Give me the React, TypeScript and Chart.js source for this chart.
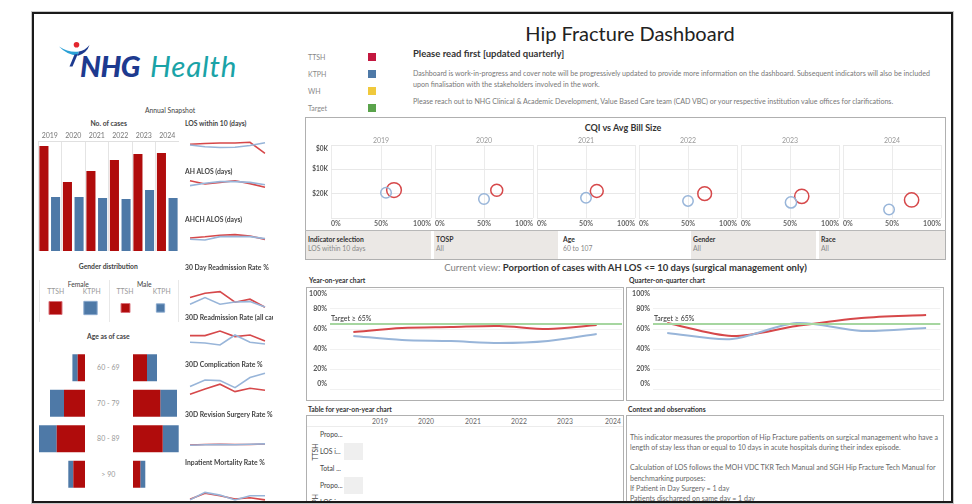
import React, { useEffect, useRef } from 'react';
import { Chart, registerables } from 'chart.js';

Chart.register(...registerables);

const FONT = 'Lato, "Open Sans", Roboto, sans-serif';
Chart.defaults.font.family = FONT;

// ---------------- data ----------------
const years = ['2019', '2020', '2021', '2022', '2023', '2024'];
const casesTTSH = [420, 276, 320, 364, 388, 392];
const casesKTPH = [216, 216, 212, 208, 244, 212];

const losTTSH = [57.1, 58.1, 58.8, 58.8, 59.6, 45.9];
const losKTPH = [56.3, 54.0, 53.1, 53.4, 55.6, 59.1];
const ahAlosTTSH = [10.8, 10.0, 10.4, 10.8, 10.1, 9.2];
const ahAlosKTPH = [9.6, 10.2, 10.6, 10.6, 10.4, 9.8];
const ahchAlosTTSH = [23.0, 23.6, 24.4, 24.7, 24.0, 22.3];
const ahchAlosKTPH = [22.4, 22.0, 23.7, 23.7, 23.7, 22.7];
const readm30TTSH = [8.2, 10.4, 11.2, 5.9, 7.4, 3.4];
const readm30KTPH = [4.9, 8.2, 4.9, 6.0, 6.2, 3.5];
const readmAllTTSH = [13.2, 13.2, 15.5, 12.7, 13.5, 10.5];
const readmAllKTPH = [9.9, 9.5, 8.5, 13.5, 9.9, 9.0];
const complTTSH = [1.9, 4.5, 6.9, 3.2, 4.9, 3.9];
const complKTPH = [5.7, 9.0, 8.7, 5.2, 10.2, 12.4];
const revisTTSH = [1.75, 1.88, 1.95, 1.88, 1.88, 2.0];
const revisKTPH = [1.7, 1.8, 1.88, 1.8, 1.93, 2.03];
const mortTTSH = [0.9, 2.9, 2.1, 1.0, 1.4, 0.7];
const mortKTPH = [0.7, 3.2, 2.3, 0.7, 2.1, 2.1];

const genderGroups = ['Female', 'Male'];
const genderTTSH = [1700, 810];
const genderKTPH = [1780, 690];

const ageBands = ['60 - 69', '70 - 79', '80 - 89', '> 90'];
const ageFemaleTTSH = [73, 210, 283, 117];
const ageFemaleKTPH = [53, 140, 177, 50];
const ageMaleTTSH = [140, 273, 297, 73];
const ageMaleKTPH = [100, 167, 160, 50];

const cqiTTSHpct = [63, 63, 61, 67, 62, 70];
const cqiKTPHpct = [55, 50, 50, 50, 51, 47];
const cqiTTSHbill = [18.5, 18.6, 18.9, 20.0, 21.1, 22.6];
const cqiKTPHbill = [19.6, 22.2, 21.7, 23.0, 23.6, 26.5];
const billTicks = [0, 10, 20];
const billTickLabels = ['$0K', '$10K', '$20K'];

const yoyTTSH = [57, 61, 62, 63, 60, 64];
const yoyKTPH = [53, 49, 48, 46, 48, 55];
const quarters = ['2024 Q1', '2024 Q2', '2024 Q3', '2024 Q4', '2025 Q1'];
const qoqTTSH = [66, 53, 63, 71, 74];
const qoqKTPH = [56, 50, 66, 58, 61];
const pctTicks = [0, 20, 40, 60, 80, 100];
const pctTickLabels = ['0%', '20%', '40%', '60%', '80%', '100%'];
const TARGET = 65;

// ---------------- colours ----------------
const BAR_RED = '#b00c0c';
const BAR_BLUE = '#4e79a7';
const LINE_RED = '#d6484a';
const LINE_BLUE = '#98b5d9';
const TARGET_GREEN = '#a6d6a0';

// ---------------- plugins ----------------
const innerY = {
  id: 'innerY',
  afterDraw(chart: any, _a: any, o: any) {
    if (!o || !o.values) return;
    const s = chart.scales.y;
    const a = chart.chartArea;
    const ctx = chart.ctx;
    ctx.save();
    ctx.font = o.font;
    ctx.fillStyle = o.color;
    ctx.textAlign = 'right';
    ctx.textBaseline = 'middle';
    o.values.forEach((v: number, i: number) => {
      let py = s.getPixelForValue(v);
      py = Math.min(Math.max(py, a.top + o.inset), a.bottom - o.inset);
      ctx.fillText(o.labels[i], a.left - o.pad, py);
    });
    ctx.restore();
  },
};
const panelTitle = {
  id: 'panelTitle',
  afterDraw(chart: any, _a: any, o: any) {
    if (!o || !o.text) return;
    const a = chart.chartArea;
    const ctx = chart.ctx;
    ctx.save();
    ctx.font = `7px ${FONT}`;
    ctx.fillStyle = '#9a9a9a';
    ctx.textAlign = 'center';
    ctx.textBaseline = 'middle';
    ctx.fillText(o.text, (a.left + a.right) / 2, a.top - 4);
    ctx.restore();
  },
};
const targetLine = {
  id: 'targetLine',
  afterDatasetsDraw(chart: any, _a: any, o: any) {
    if (!o || o.value == null) return;
    const a = chart.chartArea;
    const py = chart.scales.y.getPixelForValue(o.value);
    const ctx = chart.ctx;
    ctx.save();
    ctx.strokeStyle = TARGET_GREEN;
    ctx.lineWidth = 2;
    ctx.beginPath();
    ctx.moveTo(a.left, py);
    ctx.lineTo(a.right, py);
    ctx.stroke();
    ctx.font = `7px ${FONT}`;
    ctx.fillStyle = '#333';
    ctx.textAlign = 'left';
    ctx.textBaseline = 'alphabetic';
    ctx.fillText(o.label, a.left + 1, py - 3);
    ctx.restore();
  },
};
Chart.register(innerY as any, panelTitle as any, targetLine as any);

// ---------------- helpers ----------------
function Cv({ x, y, w, h, make }: { x: number; y: number; w: number; h: number; make: () => any }) {
  const ref = useRef<HTMLCanvasElement>(null);
  useEffect(() => {
    const c = new Chart(ref.current as HTMLCanvasElement, make());
    return () => c.destroy();
  }, []);
  return <canvas ref={ref} width={w} height={h} style={{ position: 'absolute', left: x, top: y, width: w, height: h }} />;
}

function T({ x, y, s, c = '#333', w = 400, a = 'left', children, it = false }: any) {
  const lh = Math.round(s * 1.3);
  const tr = a === 'center' ? 'translateX(-50%)' : a === 'right' ? 'translateX(-100%)' : undefined;
  return (
    <div style={{ position: 'absolute', left: x, top: y - lh / 2, lineHeight: lh + 'px', fontSize: s, color: c, fontWeight: w, whiteSpace: 'nowrap', transform: tr, fontFamily: FONT, fontStyle: it ? 'italic' : 'normal' }}>
      {children}
    </div>
  );
}

function Box({ x, y, w, h, bg, b }: any) {
  return <div style={{ position: 'absolute', left: x, top: y, width: w, height: h, background: bg, border: b, boxSizing: 'border-box' }} />;
}

const base = { responsive: false, animation: false, events: [] as any[] };
const noLegend = { legend: { display: false }, tooltip: { enabled: false } };

// ---------------- chart configs ----------------
const casesCfg = () => ({
  type: 'bar',
  data: {
    labels: years,
    datasets: [
      { data: casesTTSH, backgroundColor: BAR_RED, barPercentage: 0.78, categoryPercentage: 0.99 },
      { data: casesKTPH, backgroundColor: BAR_BLUE, barPercentage: 0.78, categoryPercentage: 0.99 },
    ],
  },
  options: {
    ...base,
    plugins: { ...noLegend },
    layout: { padding: 0, autoPadding: false },
    scales: {
      x: {
        position: 'top',
        grid: { color: '#e4e4e4', drawTicks: false, offset: true },
        border: { color: '#e0e0e0' },
        ticks: { font: { size: 7 }, color: '#777', padding: 1, maxRotation: 0 },
        afterFit: (s: any) => { s.height = 11; },
      },
      y: { display: false, min: 0, max: 440 },
    },
  },
});

function sparkCfg(t: number[], k: number[], min: number, max: number) {
  return () => ({
    type: 'line',
    data: {
      labels: years,
      datasets: [
        { data: k, borderColor: LINE_BLUE, borderWidth: 1.6, pointRadius: 0, tension: 0 },
        { data: t, borderColor: LINE_RED, borderWidth: 1.6, pointRadius: 0, tension: 0 },
      ],
    },
    options: {
      ...base,
      plugins: { ...noLegend },
      layout: { padding: { left: 3, right: 3, top: 2, bottom: 2 } },
      scales: { x: { display: false }, y: { display: false, min, max } },
    },
  });
}

const sparkData = [
  { title: 'LOS within 10 (days)', t: losTTSH, k: losKTPH, min: 40, max: 70 },
  { title: 'AH ALOS (days)', t: ahAlosTTSH, k: ahAlosKTPH, min: 8, max: 12 },
  { title: 'AHCH ALOS (days)', t: ahchAlosTTSH, k: ahchAlosKTPH, min: 20, max: 28 },
  { title: '30 Day Readmission Rate %', t: readm30TTSH, k: readm30KTPH, min: 2, max: 14 },
  { title: '30D Readmission Rate (all cause) %', t: readmAllTTSH, k: readmAllKTPH, min: 6, max: 18 },
  { title: '30D Complication Rate %', t: complTTSH, k: complKTPH, min: 0, max: 14 },
  { title: '30D Revision Surgery Rate %', t: revisTTSH, k: revisKTPH, min: 0, max: 4 },
  { title: 'Inpatient Mortality Rate %', t: mortTTSH, k: mortKTPH, min: 0, max: 6 },
];
const sparkLayout = [
  { ty: 123.7, top: 134, h: 24 },
  { ty: 171.7, top: 176, h: 16 },
  { ty: 219.5, top: 228, h: 16 },
  { ty: 267.7, top: 286, h: 24 },
  { ty: 317, top: 326, h: 24 },
  { ty: 364.3, top: 370, h: 28 },
  { ty: 414.3, top: 436, h: 16 },
  { ty: 462, top: 484, h: 18 },
];

// square marker half-size from the count (Tableau size encoding)
const squareR = (n: number) => (0.315 * Math.sqrt(n)) / (2 * Math.SQRT1_2);
const genderCfg = () => ({
  type: 'scatter',
  data: {
    datasets: [
      {
        data: genderTTSH.map((_n, i) => ({ x: i * 2, y: 0.5 })),
        pointRadius: genderTTSH.map(squareR),
        pointBackgroundColor: BAR_RED, pointBorderColor: '#d9707a', pointBorderWidth: 1, pointStyle: 'rect',
        showLine: false, clip: false,
      },
      {
        data: genderKTPH.map((_n, i) => ({ x: i * 2 + 1, y: 0.5 })),
        pointRadius: genderKTPH.map(squareR),
        pointBackgroundColor: BAR_BLUE, pointBorderColor: '#86a6cc', pointBorderWidth: 1, pointStyle: 'rect',
        showLine: false, clip: false,
      },
    ],
  },
  options: {
    ...base,
    plugins: { ...noLegend },
    layout: { padding: 0, autoPadding: false },
    scales: {
      x: { type: 'linear', display: false, min: -0.5, max: 3.5 },
      y: { type: 'linear', display: false, min: 0, max: 1 },
    },
  },
});

function ageCfg(t: number[], k: number[], max: number, reverse: boolean) {
  return () => ({
    type: 'bar',
    data: {
      labels: ageBands,
      datasets: [
        { data: t, backgroundColor: BAR_RED, barPercentage: 0.76, categoryPercentage: 1 },
        { data: k, backgroundColor: BAR_BLUE, barPercentage: 0.76, categoryPercentage: 1 },
      ],
    },
    options: {
      ...base,
      indexAxis: 'y',
      plugins: { ...noLegend },
      layout: { padding: 0, autoPadding: false },
      scales: {
        x: { display: false, stacked: true, min: 0, max, reverse },
        y: { display: false, stacked: true },
      },
    },
  });
}

const bubbleR = (n: number) => 0.36 * Math.sqrt(n);
function cqiCfg(i: number) {
  return () => ({
    type: 'bubble',
    data: {
      datasets: [
        { data: [{ x: cqiKTPHpct[i], y: cqiKTPHbill[i], r: bubbleR(casesKTPH[i]) }], backgroundColor: 'rgba(255,255,255,0)', borderColor: LINE_BLUE, borderWidth: 1.5 },
        { data: [{ x: cqiTTSHpct[i], y: cqiTTSHbill[i], r: bubbleR(casesTTSH[i]) }], backgroundColor: 'rgba(255,255,255,0)', borderColor: LINE_RED, borderWidth: 1.5 },
      ],
    },
    options: {
      ...base,
      layout: { padding: { top: 10, left: 0, right: 0, bottom: 0 }, autoPadding: false },
      plugins: {
        ...noLegend,
        panelTitle: { text: years[i] },
        innerY: i === 0 ? { values: billTicks, labels: billTickLabels, font: `bold 6.5px ${FONT}`, color: '#555', inset: 4, pad: 3 } : false,
      },
      scales: {
        x: {
          type: 'linear', min: 0, max: 100,
          afterBuildTicks: (s: any) => { s.ticks = [0, 50, 100].map((v) => ({ value: v })); },
          ticks: { align: 'inner', callback: (v: any) => v + '%', font: { size: 7, weight: 'bold' }, color: '#666', padding: 2, maxRotation: 0, autoSkip: false },
          grid: { color: '#ebebeb', drawTicks: false },
          border: { display: false },
          afterFit: (s: any) => { s.height = 12; },
        },
        y: {
          type: 'linear', reverse: true, min: 0, max: 30,
          afterBuildTicks: (s: any) => { s.ticks = [0, 10, 20, 30].map((v) => ({ value: v })); },
          ticks: { display: false },
          grid: { color: '#e8e8e8', drawTicks: false },
          border: { display: false },
          afterFit: (s: any) => { s.width = i === 0 ? 25 : 0; },
        },
      },
    },
  });
}

function trendCfg(labels: string[], t: number[], k: number[], min: number, max: number, yw: number) {
  return () => ({
    type: 'line',
    data: {
      datasets: [
        { data: k.map((v, i) => ({ x: i, y: v })), borderColor: LINE_BLUE, borderWidth: 2, pointRadius: 0, tension: 0.3 },
        { data: t.map((v, i) => ({ x: i, y: v })), borderColor: LINE_RED, borderWidth: 2, pointRadius: 0, tension: 0.3 },
      ],
    },
    options: {
      ...base,
      layout: { padding: { top: 1, right: 1, left: 0, bottom: 0 }, autoPadding: false },
      plugins: {
        ...noLegend,
        innerY: { values: pctTicks, labels: pctTickLabels, font: `bold 7px ${FONT}`, color: '#555', inset: 5, pad: 3 },
        targetLine: { value: TARGET, label: 'Target \u2265 65%' },
      },
      scales: {
        x: {
          type: 'linear', min, max,
          afterBuildTicks: (s: any) => { s.ticks = labels.map((_, i) => ({ value: i })); },
          ticks: { callback: (_v: any, i: number) => labels[i], font: { size: 7 }, color: '#9a9a9a', padding: 3, maxRotation: 0, autoSkip: false },
          grid: { display: false },
          border: { display: false },
          afterFit: (s: any) => { s.height = 11; },
        },
        y: {
          min: 0, max: 100,
          afterBuildTicks: (s: any) => { s.ticks = pctTicks.map((v) => ({ value: v })); },
          ticks: { display: false },
          grid: { color: '#f1f1f1', drawTicks: false },
          border: { display: false },
          afterFit: (s: any) => { s.width = yw; },
        },
      },
    },
  });
}

// ---------------- text ----------------
const paraLines = [
  'Dashboard is work-in-progress and cover note will be progressively updated to provide more information on the dashboard. Subsequent indicators will also be included',
  'upon finalisation with the stakeholders involved in the work.',
];
const paraLine3 = 'Please reach out to NHG Clinical & Academic Development, Value Based Care team (CAD VBC) or your respective institution value offices for clarifications.';
const contextLines = [
  'This indicator measures the proportion of Hip Fracture patients on surgical management who have a',
  'length of stay less than or equal to 10 days in acute hospitals during their index episode.',
  '',
  'Calculation of LOS follows the MOH VDC TKR Tech Manual and SGH Hip Fracture Tech Manual for',
  'benchmarking purposes:',
  'If Patient in Day Surgery = 1 day',
  'Patients discharged on same day = 1 day',
];
const filters = [
  { label: 'Indicator selection', value: 'LOS within 10 days', x: 306, w: 125, bg: '#ebe8e5' },
  { label: 'TOSP', value: 'All', x: 434, w: 124, bg: '#ebe8e5' },
  { label: 'Age', value: '60 to 107', x: 561, w: 127, bg: '#ffffff' },
  { label: 'Gender', value: 'All', x: 691, w: 125, bg: '#ebe8e5' },
  { label: 'Race', value: 'All', x: 819, w: 126, bg: '#ebe8e5' },
];
const legendItems = [
  { name: 'TTSH', color: '#c3173f', y: 57 },
  { name: 'KTPH', color: '#4e79a7', y: 74 },
  { name: 'WH', color: '#f0c93c', y: 91 },
  { name: 'Target', color: '#5aa34b', y: 108 },
];
const tableYearX = [380, 426, 473, 519, 565, 613];
const tableRows = ['Propo...', 'LOS i...', 'Total ...', 'Propo...', 'LOS i...'];

export default function App() {
  return (
    <div style={{ position: 'fixed', left: 0, top: 0, width: 972, height: 504, overflow: 'hidden', background: '#fff', fontFamily: FONT }}>
      {/* logo */}
      <svg style={{ position: 'absolute', left: 0, top: 0 }} width={120} height={90}>
        <circle cx={76.5} cy={44.7} r={2.8} fill="#e3262e" />
        <path d="M59,46.5 Q69,53 79,51.5 L77.5,55.5 Q67,55 59,46.5 Z" fill="#2aa0d6" />
        <path d="M79,51.5 Q85,50.5 89.5,45 Q87,53 77.5,56 Z" fill="#1d3a8f" />
        <path d="M77.8,54 L72.5,66.5 L69.5,66.5 L74.5,54.5 Z" fill="#1d3a8f" />
      </svg>
      <div style={{ position: 'absolute', left: 80, top: 52, fontSize: 29, lineHeight: '28px', fontWeight: 900, fontStyle: 'italic', color: '#1d3a8f', letterSpacing: -0.5, whiteSpace: 'nowrap' }}>NHG</div>
      <div style={{ position: 'absolute', left: 150, top: 52, fontSize: 29.5, lineHeight: '28px', fontWeight: 400, fontStyle: 'italic', color: '#1aa3a7', letterSpacing: 0.8, whiteSpace: 'nowrap' }}>Health</div>

      {/* left column */}
      <T x={170} y={110} s={6.8} c="#444" a="center">Annual Snapshot</T>
      <T x={108.7} y={123.7} s={6.8} w={700} c="#444" a="center">No. of cases</T>
      <Cv x={38} y={130} w={141} h={121} make={casesCfg} />

      {sparkData.map((d, i) => (
        <React.Fragment key={d.title}>
          <div style={{ position: 'absolute', left: 185, top: 0, width: 88, height: 504, overflow: 'hidden' }}>
            <T x={0} y={sparkLayout[i].ty} s={6.8} w={700} c="#444">{d.title}</T>
          </div>
          <Cv x={187} y={sparkLayout[i].top - 2} w={81} h={sparkLayout[i].h + 4} make={sparkCfg(d.t, d.k, d.min, d.max)} />
        </React.Fragment>
      ))}

      <T x={108.3} y={266} s={6.8} w={700} c="#444" a="center">Gender distribution</T>
      {[39, 109, 178].map((x) => <Box key={x} x={x} y={280} w={1} h={42} bg="#e8e8e8" />)}
      <T x={78.3} y={284.3} s={6.8} c="#444" a="center">{genderGroups[0]}</T>
      <T x={144.3} y={284.3} s={6.8} c="#444" a="center">{genderGroups[1]}</T>
      <T x={55.7} y={291} s={6.8} c="#999" a="center">TTSH</T>
      <T x={91.7} y={291} s={6.8} c="#999" a="center">KTPH</T>
      <T x={125} y={291} s={6.8} c="#999" a="center">TTSH</T>
      <T x={161.7} y={291} s={6.8} c="#999" a="center">KTPH</T>
      <Cv x={38} y={298} w={140} h={20} make={genderCfg} />

      <T x={108.3} y={336} s={6.8} w={700} c="#444" a="center">Age as of case</T>
      <Cv x={38} y={350} w={47} h={142} make={ageCfg(ageFemaleTTSH, ageFemaleKTPH, 470, true)} />
      <Cv x={133} y={350} w={46} h={142} make={ageCfg(ageMaleTTSH, ageMaleKTPH, 460, false)} />
      {ageBands.map((b, i) => <T key={b} x={108.3} y={367.7 + i * 35.5} s={7} c="#999" a="center">{b}</T>)}

      {/* header */}
      <T x={630} y={33} s={20} c="#222" a="center">Hip Fracture Dashboard</T>
      {legendItems.map((l) => (
        <React.Fragment key={l.name}>
          <T x={308} y={l.y} s={7} c="#888">{l.name}</T>
          <Box x={368} y={l.y - 4} w={8} h={8} bg={l.color} />
        </React.Fragment>
      ))}
      <T x={413} y={54} s={9.5} w={700} c="#333">Please read first [updated quarterly]</T>
      <T x={413} y={73} s={7.1} c="#777">{paraLines[0]}</T>
      <T x={413} y={84} s={7.1} c="#777">{paraLines[1]}</T>
      <T x={413} y={101} s={7.1} c="#777">{paraLine3}</T>

      {/* CQI */}
      <Box x={305} y={117} w={641} h={143} b="1px solid #b0b0b0" />
      <T x={623} y={128.3} s={9} w={700} c="#333" a="center">CQI vs Avg Bill Size</T>
      <Cv x={306} y={135} w={127} h={95} make={cqiCfg(0)} />
      {[1, 2, 3, 4, 5].map((i) => <Cv key={i} x={331 + 102 * i} y={135} w={102} h={95} make={cqiCfg(i)} />)}
      <Box x={306} y={231} w={639} h={28} bg="#ffffff" />
      {filters.map((f) => (
        <React.Fragment key={f.label}>
          <Box x={f.x} y={231} w={f.w} h={28} bg={f.bg} />
          <T x={f.x + 2} y={239} s={6.8} w={700} c="#333">{f.label}</T>
          <T x={f.x + 2} y={248.3} s={6.8} c="#888">{f.value}</T>
        </React.Fragment>
      ))}
      <Box x={305} y={230} w={641} h={1} bg="#b8b8b8" />

      {/* current view */}
      <div style={{ position: 'absolute', left: 625.5, top: 261, transform: 'translateX(-50%)', whiteSpace: 'nowrap', fontSize: 9.5, lineHeight: '13px', fontFamily: FONT }}>
        <span style={{ color: '#808080' }}>Current view: </span>
        <span style={{ color: '#333', fontWeight: 700 }}>Porportion of cases with AH LOS &lt;= 10 days (surgical management only)</span>
      </div>

      {/* trend charts */}
      <T x={309} y={280} s={6.8} w={700} c="#333">Year-on-year chart</T>
      <T x={629} y={280} s={6.8} w={700} c="#333">Quarter-on-quarter chart</T>
      <Box x={306} y={287} w={318} h={114} b="1px solid #b0b0b0" />
      <Box x={626} y={287} w={318} h={114} b="1px solid #b0b0b0" />
      <Cv x={307} y={288} w={316} h={112} make={trendCfg(years, yoyTTSH, yoyKTPH, -0.48, 5.52, 23)} />
      <Cv x={627} y={288} w={316} h={112} make={trendCfg(quarters, qoqTTSH, qoqKTPH, -0.22, 4.22, 26)} />

      {/* table */}
      <T x={308} y={409} s={6.8} w={700} c="#333">Table for year-on-year chart</T>
      <T x={628} y={409} s={6.8} w={700} c="#333">Context and observations</T>
      <Box x={306} y={415} w={318} h={100} b="1px solid #b0b0b0" />
      <Box x={626} y={415} w={318} h={100} b="1px solid #b0b0b0" />
      <Box x={307} y={426} w={316} h={1} bg="#ececec" />
      {years.map((yv, i) => <T key={yv} x={tableYearX[i]} y={421} s={6.8} c="#666" a="center">{yv}</T>)}
      <Box x={344} y={443} w={19} h={17} bg="#efefef" />
      <Box x={344} y={477} w={19} h={17} bg="#efefef" />
      {tableRows.map((r, i) => <T key={i} x={320} y={434.5 + i * 17} s={6.8} c="#444">{r}</T>)}
      <div style={{ position: 'absolute', left: 314.7, top: 451.5, transform: 'translate(-50%,-50%) rotate(-90deg)', fontSize: 6.8, color: '#444', whiteSpace: 'nowrap', fontFamily: FONT }}>TTSH</div>
      <div style={{ position: 'absolute', left: 314.7, top: 503, transform: 'translate(-50%,-50%) rotate(-90deg)', fontSize: 6.8, color: '#444', whiteSpace: 'nowrap', fontFamily: FONT }}>KTPH</div>
      {contextLines.map((l, i) => <T key={i} x={630} y={437 + i * 10.3} s={7.05} c="#666">{l}</T>)}

      {/* frame */}
      <div style={{ position: 'absolute', left: 32, top: 12, width: 921, height: 491, border: '2px solid #1a1a1a', boxShadow: '0 0 0 1px #c8c8c8', boxSizing: 'border-box', zIndex: 5, pointerEvents: 'none' }} />
    </div>
  );
}
